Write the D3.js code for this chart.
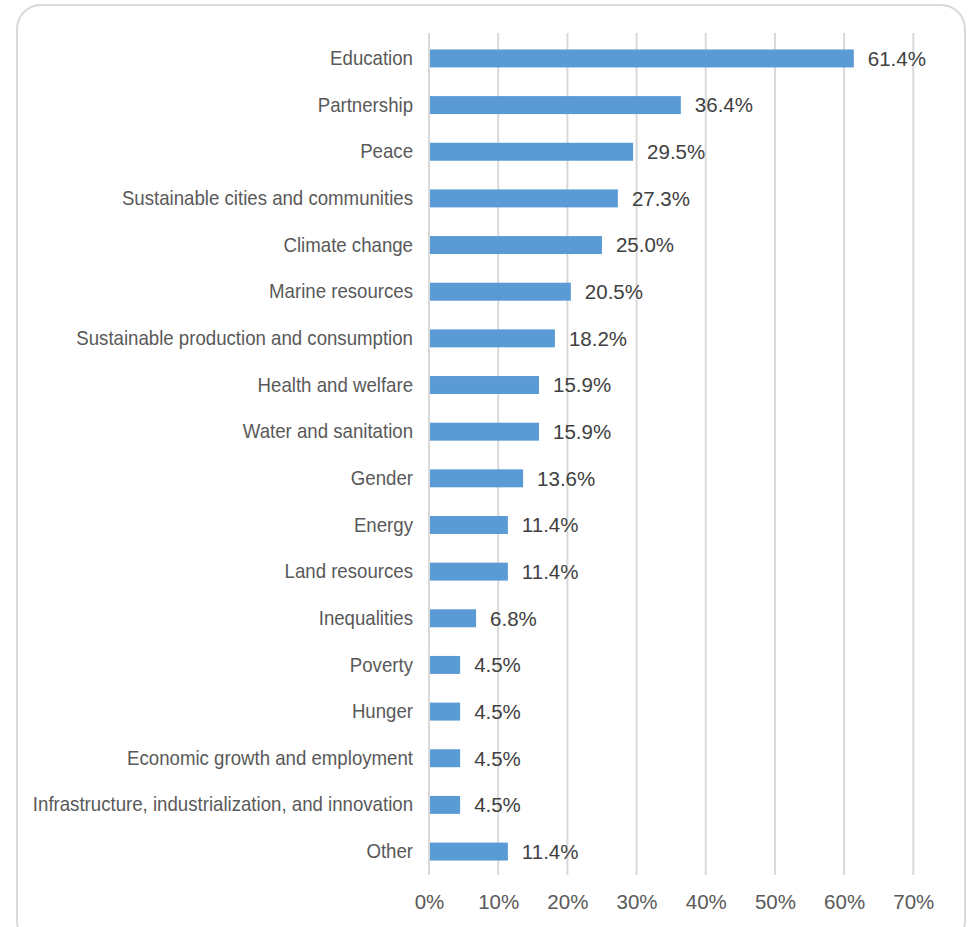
<!DOCTYPE html>
<html>
<head>
<meta charset="utf-8">
<script src="https://cdn.jsdelivr.net/npm/d3@7"></script>
<style>
  html, body { margin: 0; padding: 0; background: #ffffff; }
  svg { display: block; }
</style>
</head>
<body>
<script>
// SDG themes and the share of respondents addressing each
const categories = [
  "Education", "Partnership", "Peace", "Sustainable cities and communities",
  "Climate change", "Marine resources", "Sustainable production and consumption",
  "Health and welfare", "Water and sanitation", "Gender", "Energy",
  "Land resources", "Inequalities", "Poverty", "Hunger",
  "Economic growth and employment",
  "Infrastructure, industrialization, and innovation", "Other"
];
const values = [61.4, 36.4, 29.5, 27.3, 25.0, 20.5, 18.2, 15.9, 15.9, 13.6,
                11.4, 11.4, 6.8, 4.5, 4.5, 4.5, 4.5, 11.4];
const tickValues = [0, 10, 20, 30, 40, 50, 60, 70];

const W = 968, H = 927;
const FONT = "'Liberation Sans', Arial, sans-serif";
const svg = d3.select("body").append("svg").attr("width", W).attr("height", H);

// rounded frame
svg.append("rect")
  .attr("x", 17).attr("y", 5)
  .attr("width", 948).attr("height", 940)
  .attr("rx", 24).attr("ry", 24)
  .attr("fill", "#ffffff")
  .attr("stroke", "#d9d9d9").attr("stroke-width", 2);

const plotLeft = 429, plotRight = 913.3, plotTop = 35, plotBottom = 875;

const x = d3.scaleLinear().domain([0, 70]).range([plotLeft, plotRight]);
const y = d3.scaleBand().domain(categories)
  .range([plotTop, plotBottom]).paddingInner(0.615).paddingOuter(0.31);

// vertical gridlines
svg.append("g").selectAll("line").data(tickValues).join("line")
  .attr("x1", d => x(d)).attr("x2", d => x(d))
  .attr("y1", plotTop - 2).attr("y2", plotBottom)
  .attr("stroke", "#d9d9d9").attr("stroke-width", 2);

// bars
svg.append("g").selectAll("rect").data(values).join("rect")
  .attr("x", x(0) + 1)
  .attr("y", (d, i) => y(categories[i]))
  .attr("width", d => x(d) - x(0) - 1)
  .attr("height", y.bandwidth())
  .attr("fill", "#5b9bd5");

// value labels
svg.append("g").selectAll("text").data(values).join("text")
  .attr("x", d => x(d) + 14)
  .attr("y", (d, i) => y(categories[i]) + y.bandwidth() / 2)
  .attr("dy", "0.36em")
  .attr("font-family", FONT)
  .attr("font-size", 20.5)
  .attr("fill", "#404040")
  .text(d => d.toFixed(1) + "%");

// category axis labels (slightly condensed type)
const yAxis = d3.axisLeft(y).tickSize(0).tickPadding(16);
const gy = svg.append("g").attr("transform", `translate(${plotLeft},0)`).call(yAxis);
gy.select(".domain").remove();
gy.selectAll("text")
  .attr("x", 0)
  .attr("transform", "translate(-16,0) scale(0.91,1)")
  .attr("font-family", FONT)
  .attr("font-size", 20.5)
  .attr("fill", "#595959");

// percentage axis
const xAxis = d3.axisBottom(x).tickValues(tickValues).tickSize(0).tickPadding(0)
  .tickFormat(d => d + "%");
const gx = svg.append("g").attr("transform", `translate(0,${plotBottom})`).call(xAxis);
gx.select(".domain").remove();
gx.selectAll("text")
  .attr("y", 27).attr("dy", "0.36em")
  .attr("font-family", FONT)
  .attr("font-size", 20.5)
  .attr("fill", "#595959");
</script>
</body>
</html>
